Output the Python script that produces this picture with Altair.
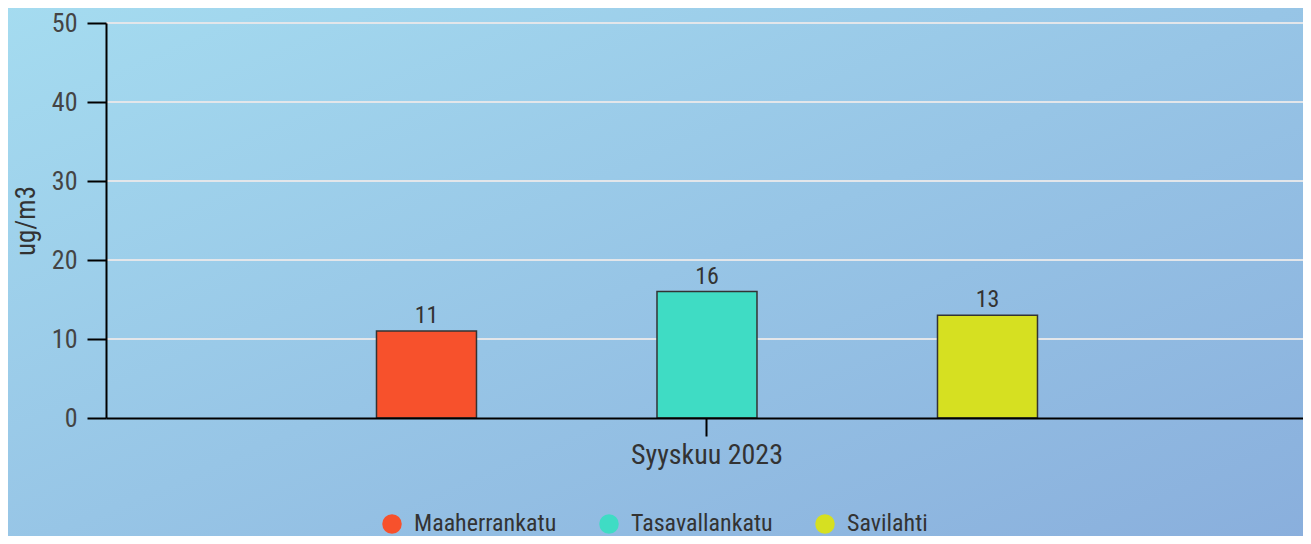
import altair as alt
import pandas as pd

categories = ["Syyskuu 2023"]
stations = ["Maaherrankatu", "Tasavallankatu", "Savilahti"]
values = [11, 16, 13]
colors = ["#f7512c", "#3fdcc4", "#d6e021"]
grid_values = [0, 10, 20, 30, 40, 50]

FONT = "Roboto Condensed, Liberation Sans Narrow, DejaVu Sans Condensed, Roboto, sans-serif"

df = pd.DataFrame({"month": categories * len(stations), "station": stations, "value": values})
grid_df = pd.DataFrame({"g": grid_values[1:]})
bg_df = pd.DataFrame({"a": [0]})

W, H = 1197, 395
PL, PT, PR, PB = 98, 15, 0, 118

bg = alt.Chart(bg_df).mark_rect(
    fill=alt.Gradient(
        gradient="linear",
        stops=[alt.GradientStop(color="#a5dcf0", offset=0), alt.GradientStop(color="#89aedc", offset=1)],
        x1=0, y1=0, x2=1, y2=1,
    )
).encode(x=alt.value(-PL - 10), x2=alt.value(W + PR + 10), y=alt.value(-PT - 10), y2=alt.value(H + PB + 20))

yscale = alt.Scale(domain=[0, 50], nice=False)
yaxis = alt.Axis(title="ug/m3", values=grid_values, grid=False, labelFont=FONT, labelFontSize=26,
                 labelColor="#444444", labelPadding=10, tickSize=19, tickWidth=2, tickColor="#000000",
                 domainColor="#000000", domainWidth=2, titleFont=FONT, titleFontSize=27,
                 titleFontWeight="normal", titleColor="#333333", titleX=-66, zindex=1)

grid = alt.Chart(grid_df).mark_rule(color="#e3e6ea", strokeWidth=2).encode(
    y=alt.Y("g:Q", scale=yscale, axis=yaxis)
)

xenc = alt.X("month:N", scale=alt.Scale(paddingInner=0, paddingOuter=0.21123, align=0.507),
             axis=alt.Axis(title=None, labelAngle=0, labelFont=FONT, labelFontSize=28, labelColor="#333333",
                           labelPadding=5, tickSize=18, tickWidth=2, tickColor="#000000",
                           domainColor="#000000", domainWidth=2, zindex=1))
xoff = alt.XOffset("station:N", sort=stations, scale=alt.Scale(paddingInner=0.6435, paddingOuter=0.32175))

bars = alt.Chart(df).mark_bar(stroke="#333333", strokeWidth=1.5).encode(
    x=xenc,
    xOffset=xoff,
    y=alt.Y("value:Q", scale=yscale, axis=yaxis),
    color=alt.Color("station:N", sort=stations, scale=alt.Scale(domain=stations, range=colors),
                    legend=alt.Legend(title=None, orient="none", direction="horizontal", legendX=274, legendY=489,
                                      symbolType="circle", symbolSize=380, symbolStrokeWidth=0,
                                      labelFont=FONT, labelFontSize=24, labelColor="#333333",
                                      labelOffset=10, columnPadding=40)),
)

labels = alt.Chart(df).mark_text(baseline="bottom", dy=-3, font=FONT, fontSize=24, color="#333333").encode(
    x=alt.X("month:N"),
    xOffset=xoff,
    y=alt.Y("value:Q", scale=yscale),
    text=alt.Text("value:Q"),
)

chart = alt.layer(bg, grid, bars, labels).properties(
    width=W, height=H,
    autosize=alt.AutoSizeParams(type="none"),
    padding={"left": PL, "top": PT, "right": PR, "bottom": PB},
).configure_view(stroke=None).configure(background="#9cc6e8")

chart.save("out.html", embed_options={"renderer": "svg", "actions": False})
